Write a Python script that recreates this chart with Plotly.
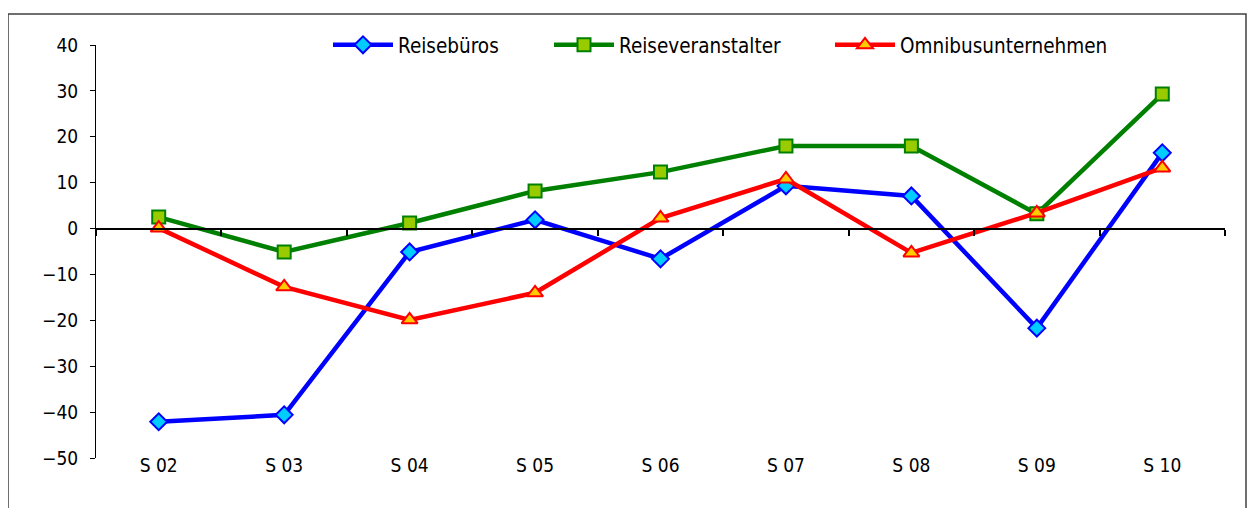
import plotly.graph_objects as go

categories = ["S 02", "S 03", "S 04", "S 05", "S 06", "S 07", "S 08", "S 09", "S 10"]
reisebueros = [-42.1, -40.6, -5.1, 1.9, -6.6, 9.3, 7.1, -21.7, 16.5]
reiseveranstalter = [2.5, -5.1, 1.2, 8.2, 12.3, 18.0, 18.0, 3.2, 29.3]
omnibus = [0.1, -12.7, -19.9, -14.0, 2.3, 10.8, -5.3, 3.4, 13.2]
y_ticks = [40, 30, 20, 10, 0, -10, -20, -30, -40, -50]

FONT = "DejaVu Sans Condensed, Liberation Sans Narrow, sans-serif"

# page geometry (browser body has an 8px margin)
BODY = 8
FIG_W, FIG_H = 1256 - BODY, 516 - 2 * BODY
PLOT_L, PLOT_R, PLOT_T, PLOT_B = 96, 1225, 45, 458
PW, PH = PLOT_R - PLOT_L, PLOT_B - PLOT_T


def px_x(p):
    return (p - PLOT_L) / PW


def px_y(p):
    return (PLOT_B - p) / PH


fig = go.Figure()
fig.add_trace(go.Scatter(
    x=categories, y=reisebueros, name="Reisebüros", mode="lines+markers", legend="legend",
    line=dict(color="#0000ff", width=4.5),
    marker=dict(symbol="diamond", size=13, color="#00ccff", line=dict(color="#0000ff", width=2)),
))
fig.add_trace(go.Scatter(
    x=categories, y=reiseveranstalter, name="Reiseveranstalter", mode="lines+markers", legend="legend2",
    line=dict(color="#008000", width=4.5),
    marker=dict(symbol="square", size=13, color="#99cc00", line=dict(color="#008000", width=2)),
))
fig.add_trace(go.Scatter(
    x=categories, y=omnibus, name="Omnibusunternehmen", mode="lines+markers", legend="legend3",
    line=dict(color="#ff0000", width=4.5),
    marker=dict(symbol="triangle-up", size=14, color="#ffcc00", line=dict(color="#ff0000", width=2)),
))
# invisible trace so the zero-positioned axis with boundary ticks is drawn
fig.add_trace(go.Scatter(x=categories, y=[None] * len(categories), xaxis="x2",
                         showlegend=False, hoverinfo="skip", mode="lines"))

ymin, ymax = -50, 40
leg_common = dict(orientation="h", xanchor="left", y=1.0, yanchor="middle",
                  bgcolor="rgba(0,0,0,0)", font=dict(size=20.5, family=FONT), itemwidth=60)
fig.update_layout(
    width=FIG_W, height=FIG_H,
    margin=dict(l=PLOT_L - BODY, r=FIG_W - (PLOT_R - BODY), t=PLOT_T - BODY, b=FIG_H - (PLOT_B - BODY)),
    paper_bgcolor="white", plot_bgcolor="white",
    font=dict(family=FONT, size=19, color="#000000"),
    showlegend=True,
    legend=dict(x=px_x(328), **leg_common),
    legend2=dict(x=px_x(549), **leg_common),
    legend3=dict(x=px_x(830), **leg_common),
    xaxis=dict(type="category", categoryarray=categories, range=[-0.5, 8.5],
               anchor="free", position=6 / PH,
               showline=False, showgrid=False, zeroline=False, ticks="",
               tickfont=dict(size=19)),
    xaxis2=dict(type="category", categoryarray=categories, range=[-0.5, 8.5],
                overlaying="x", anchor="free", position=(0 - ymin) / (ymax - ymin),
                showline=True, linecolor="#000000", linewidth=2,
                ticks="outside", tickson="boundaries", ticklen=6, tickwidth=2, tickcolor="#000000",
                showticklabels=False, showgrid=False, zeroline=False),
    yaxis=dict(range=[ymin, ymax], tickvals=y_ticks, showgrid=False, zeroline=False,
               showline=True, linecolor="#000000", linewidth=1,
               ticks="outside", ticklen=5, tickcolor="#000000",
               tickfont=dict(size=19), ticklabelstandoff=8),
    shapes=[dict(type="rect", xref="paper", yref="paper",
                 x0=px_x(8), x1=px_x(1246), y0=px_y(530), y1=px_y(14),
                 line=dict(color="#404040", width=1.5), fillcolor="rgba(0,0,0,0)", layer="below")],
)

fig.write_html("out.html")
